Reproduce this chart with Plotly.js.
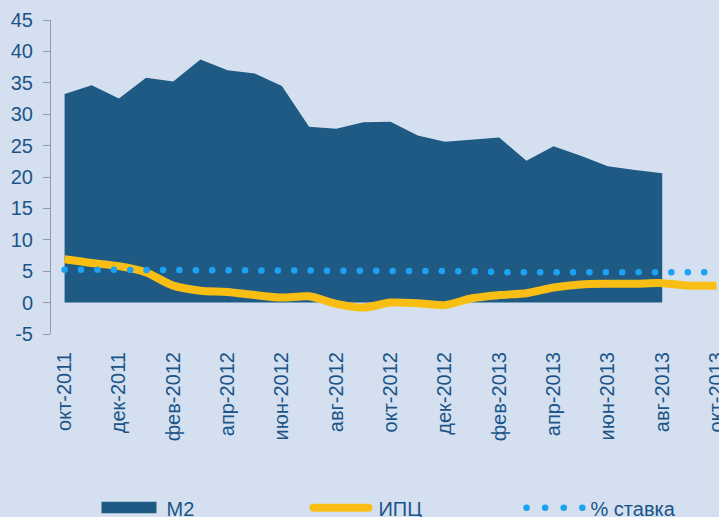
<!DOCTYPE html>
<html>
<head>
<meta charset="utf-8">
<script src="https://cdn.plot.ly/plotly-3.0.1.min.js"></script>
<style>html,body{margin:0;padding:0;background:#D4E0EF;}#chart{width:719px;height:517px;}</style>
</head>
<body>
<div id="chart"></div>
<script>
const months = ["окт-2011","ноя-2011","дек-2011","янв-2012","фев-2012","мар-2012","апр-2012","май-2012","июн-2012","июл-2012","авг-2012","сен-2012","окт-2012","ноя-2012","дек-2012","янв-2013","фев-2013","мар-2013","апр-2013","май-2013","июн-2013","июл-2013","авг-2013","сен-2013","окт-2013"];
const m2 = [33.2,34.6,32.5,35.8,35.2,38.7,37.0,36.5,34.5,28.0,27.7,28.7,28.8,26.6,25.6,26.0,26.3,22.6,24.9,23.4,21.7,21.1,20.6];
const cpi = [6.9,6.3,5.8,4.8,2.7,1.9,1.7,1.2,0.8,1.0,-0.2,-0.8,0.0,-0.1,-0.4,0.7,1.2,1.5,2.4,2.9,3.0,3.0,3.1,2.7,2.7];
const rate = [5.25,5.25,5.25,5.25,5.25,5.25,5.25,5.25,5.25,5.25,5.25,5.25,5.25,5.25,5.1,5.0,4.85,4.85,4.85,4.85,4.85,4.85,4.85,4.85,4.85];
const yTicks = [-5,0,5,10,15,20,25,30,35,40,45];
const yTickText = yTicks.map(v => String(v));
const tickLabels = months.filter((m, i) => i % 2 === 0);
const boundaryTicks = months.slice(1).map((m, i) => i + 0.5);

const font = "Liberation Sans, Arial, sans-serif";
const txt = "#1B5488";
const grey = "#8E9AAE";

const traces = [
  {x: months.slice(0, m2.length), y: m2, name: "M2", type: "scatter", mode: "lines",
   fill: "tozeroy", fillcolor: "#1F5A84", line: {color: "#1F5A84", width: 0}},
  {x: months, y: cpi, name: "ИПЦ", type: "scatter", mode: "lines",
   line: {color: "#F9BE14", width: 8, shape: "spline", smoothing: 0.8}},
  {x: months, y: rate, name: "% ставка", type: "scatter", mode: "lines",
   line: {color: "#1DA1F2", width: 6.5, dash: "6px,10px"}}
];

const layout = {
  width: 719, height: 517,
  margin: {l: 50.8, r: 0, t: 20, b: 182.5},
  paper_bgcolor: "#D4E0EF", plot_bgcolor: "#D4E0EF",
  showlegend: true,
  font: {family: font, color: txt, size: 20},
  xaxis: {type: "category", categoryorder: "array", categoryarray: months,
    range: [-0.5, 24.09], tickmode: "array", tickvals: tickLabels, ticktext: tickLabels,
    tickangle: -90, ticks: "", showline: false, showgrid: false, zeroline: false,
    tickfont: {family: font, size: 20, color: txt}, ticklabelstandoff: 13, automargin: false, fixedrange: true},
  xaxis2: {overlaying: "x", anchor: "free", position: 0.1, range: [-0.5, 24.09],
    tickmode: "array", tickvals: boundaryTicks, ticks: "outside", ticklen: 6, tickcolor: grey, tickwidth: 1,
    showticklabels: false, showline: true, linecolor: grey, linewidth: 1, showgrid: false, zeroline: false,
    layer: "below traces", automargin: false, fixedrange: true},
  yaxis: {range: [-5, 45], tickmode: "array", tickvals: yTicks, ticktext: yTickText, ticks: "outside", ticklen: 7, tickcolor: grey,
    showline: true, linecolor: grey, linewidth: 1, showgrid: false, zeroline: false,
    tickfont: {family: font, size: 20, color: txt}, ticklabelstandoff: 6, automargin: false, fixedrange: true},
  legend: {orientation: "h", xref: "container", yref: "container", x: 0.1342, y: 0.018,
    xanchor: "left", yanchor: "middle", entrywidth: 137, entrywidthmode: "pixels",
    bgcolor: "rgba(0,0,0,0)", font: {family: font, size: 20, color: txt}, itemwidth: 60, tracegroupgap: 0}
};

Plotly.newPlot("chart", traces, layout, {displayModeBar: false, staticPlot: true}).then(function(gd) {
  const tr = gd.querySelectorAll(".scatterlayer .trace");
  if (tr[2]) {
    tr[2].querySelectorAll("path.js-line").forEach(function(p) {
      p.style.strokeLinecap = "round";
      p.style.strokeDasharray = "0.1px,16.3px";
    });
  }
  const leg = gd.querySelectorAll(".legend .traces");
  leg.forEach(function(g, k) {
    g.querySelectorAll("path.js-line").forEach(function(p) {
      p.setAttribute("d", "M5,0h55");
      if (k === 1) p.style.strokeLinecap = "round";
      if (k === 2) { p.style.strokeLinecap = "round"; p.style.strokeDasharray = "0.1px,18.5px"; p.setAttribute("d", "M6,0h56"); }
    });
    g.querySelectorAll("path.js-fill").forEach(function(p) {
      p.setAttribute("d", "M5,-6h55v11.5h-55z");
    });
  });
});
</script>
</body>
</html>
